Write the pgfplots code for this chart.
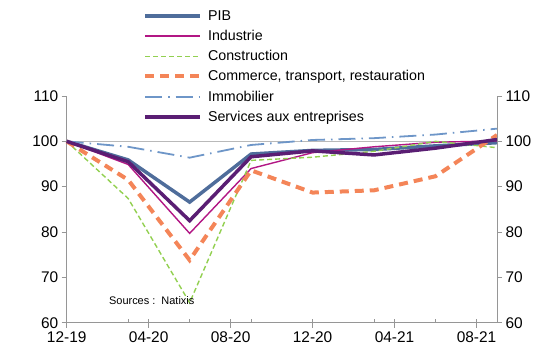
\documentclass[border=0pt]{standalone}
\usepackage{fontspec}
\setmainfont{Liberation Sans}
\usepackage{pgfplots}
\pgfplotsset{compat=1.18}
\definecolor{cPIB}{RGB}{79,109,155}
\definecolor{cInd}{RGB}{178,22,132}
\definecolor{cCon}{RGB}{146,208,80}
\definecolor{cCom}{RGB}{244,133,88}
\definecolor{cImm}{RGB}{110,150,200}
\definecolor{cSer}{RGB}{90,30,115}
\definecolor{axgray}{RGB}{150,150,150}
\begin{document}
\begin{tikzpicture}
\begin{axis}[
  scale only axis, width=430.3bp, height=226.7bp,
  xmin=0, xmax=21, ymin=60, ymax=110,
  axis x line*=bottom, axis y line*=left,
  axis line style={draw=axgray, line width=1bp},
  tick style={draw=axgray, line width=1bp},
  tick align=outside, major tick length=5bp,
  xtick={0,4,8,12,16,20},
  xticklabels={12-19,04-20,08-20,12-20,04-21,08-21},
  extra x ticks={3,4,6,8,9,12,15,16,18,20,21},
  extra x tick labels={},
  extra x tick style={tick align=inside, major tick length=4bp},
  ytick={60,70,80,90,100,110},
  ticklabel style={font=\fontsize{15.5}{18}\selectfont},
  /pgf/number format/assume math mode=true,
  legend style={draw=none, fill=none, at={(rel axis cs:0.177,1.387)}, anchor=north west,
    font=\fontsize{14.3}{17}\selectfont, row sep=4.4bp, inner sep=0pt,
    /tikz/every odd column/.append style={column sep=4bp}},
  legend cell align=left,
  legend image code/.code={\draw[#1] (0bp,0bp) -- (55bp,0bp);},
  clip=false,
]
\coordinate (O) at (rel axis cs:0,0);
\addplot[forget plot, color=gray!55, line width=1.5bp] coordinates {(0,100) (21,100)};
\addplot[color=cPIB, line width=3.5bp] coordinates {(0,100) (3,95.9) (6,86.6) (9,97.2) (12,98.0) (15,98.2) (18,99.0) (21,99.7)};
\addlegendentry{PIB}
\addplot[color=cInd, line width=1.4bp] coordinates {(0,100) (3,94.9) (6,79.7) (9,94.0) (12,97.5) (15,98.8) (18,99.8) (21,100.1)};
\addlegendentry{Industrie}
\addplot[color=cCon, line width=1.4bp, dash pattern=on 5bp off 3bp] coordinates {(0,100) (3,87.4) (6,64.4) (9,95.8) (12,96.5) (15,97.8) (18,100.0) (21,98.6)};
\addlegendentry{Construction}
\addplot[color=cCom, line width=4bp, dash pattern=on 9bp off 6bp] coordinates {(0,100) (3,91.5) (6,73.8) (9,93.6) (12,88.7) (15,89.2) (18,92.3) (21,101.4)};
\addlegendentry{Commerce, transport, restauration}
\addplot[color=cImm, line width=1.8bp, dash pattern=on 17bp off 6bp on 1.5bp off 6bp] coordinates {(0,100) (3,98.8) (6,96.4) (9,99.2) (12,100.3) (15,100.7) (18,101.5) (21,102.8)};
\addlegendentry{Immobilier}
\addplot[color=cSer, line width=3.5bp] coordinates {(0,100) (3,95.5) (6,82.5) (9,96.6) (12,97.9) (15,97.0) (18,98.5) (21,100.4)};
\addlegendentry{Services aux entreprises}
\node[anchor=west, font=\fontsize{11}{13}\selectfont, inner sep=0pt] at (axis cs:2.06,64.8) {Sources :\ \ Natixis};
\end{axis}
\begin{axis}[
  scale only axis, width=430.3bp, height=226.7bp,
  xmin=0, xmax=21, ymin=60, ymax=110,
  axis x line=none, axis y line*=right,
  axis line style={draw=axgray, line width=1bp},
  tick style={draw=axgray, line width=1bp},
  tick align=outside, major tick length=5bp,
  ytick={60,70,80,90,100,110},
  ticklabel style={font=\fontsize{15.5}{18}\selectfont},
  /pgf/number format/assume math mode=true,
]
\end{axis}
\pgfresetboundingbox
\path (O) ++(-66.7bp,-28.3bp) rectangle ++(552bp,351bp);
\end{tikzpicture}
\end{document}
